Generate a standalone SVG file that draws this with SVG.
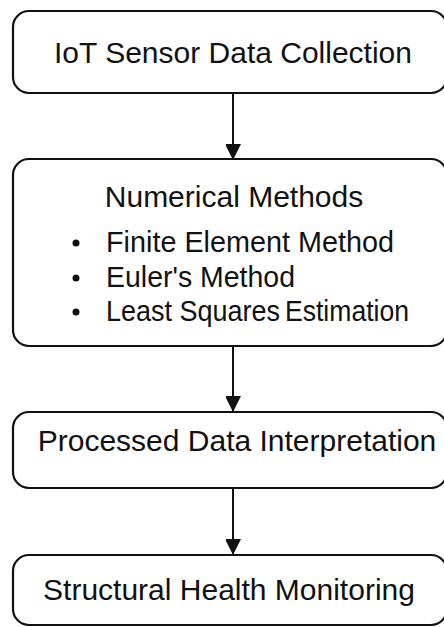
<svg xmlns="http://www.w3.org/2000/svg" width="444" height="627" viewBox="0 0 444 627">
  <defs>
    <marker id="arrowhead" markerWidth="17" markerHeight="15" refX="16" refY="8" orient="auto" markerUnits="userSpaceOnUse">
      <path d="M0,0 L16,8 L0,16 Z" fill="#111"/>
    </marker>
    <style>
      .box { fill: #fff; stroke: #111; stroke-width: 2.2; }
      .label { font-family: "Liberation Sans", Arial, sans-serif; font-size: 30px; fill: #111; }
      .item { font-size: 29px; }
      .mid { text-anchor: middle; }
      .dot { fill: #111; }
      .edge { stroke: #111; stroke-width: 2; fill: none; marker-end: url(#arrowhead); }
    </style>
  </defs>
  <rect width="444" height="627" fill="#fff"/>

  <g id="connectors">
    <line class="edge" x1="233" y1="93" x2="233" y2="160"/>
    <line class="edge" x1="233" y1="346" x2="233" y2="412"/>
    <line class="edge" x1="233" y1="488" x2="233" y2="555"/>
  </g>

  <g id="node-iot">
    <rect class="box" x="13" y="11" width="434" height="82" rx="16"/>
    <text class="label mid" x="233" y="63">IoT Sensor Data Collection</text>
  </g>

  <g id="node-numerical">
    <rect class="box" x="13" y="159" width="434" height="187" rx="16"/>
    <text class="label mid" x="234" y="207">Numerical Methods</text>
    <circle class="dot" cx="76" cy="243" r="3.5"/>
    <circle class="dot" cx="76" cy="278" r="3.5"/>
    <circle class="dot" cx="76" cy="312" r="3.5"/>
    <text class="label item" x="106" y="252" textLength="288" lengthAdjust="spacingAndGlyphs">Finite Element Method</text>
    <text class="label item" x="106" y="287" textLength="189" lengthAdjust="spacingAndGlyphs">Euler's Method</text>
    <text class="label item" x="106" y="321" textLength="174" lengthAdjust="spacingAndGlyphs">Least Squares</text>
    <text class="label item" x="285" y="321" textLength="124" lengthAdjust="spacingAndGlyphs">Estimation</text>
  </g>

  <g id="node-processed">
    <rect class="box" x="13" y="412" width="434" height="76" rx="16"/>
    <text class="label mid" x="237" y="451">Processed Data Interpretation</text>
  </g>

  <g id="node-shm">
    <rect class="box" x="13" y="555" width="434" height="70" rx="16"/>
    <text class="label mid" x="229" y="600">Structural Health Monitoring</text>
  </g>
</svg>
